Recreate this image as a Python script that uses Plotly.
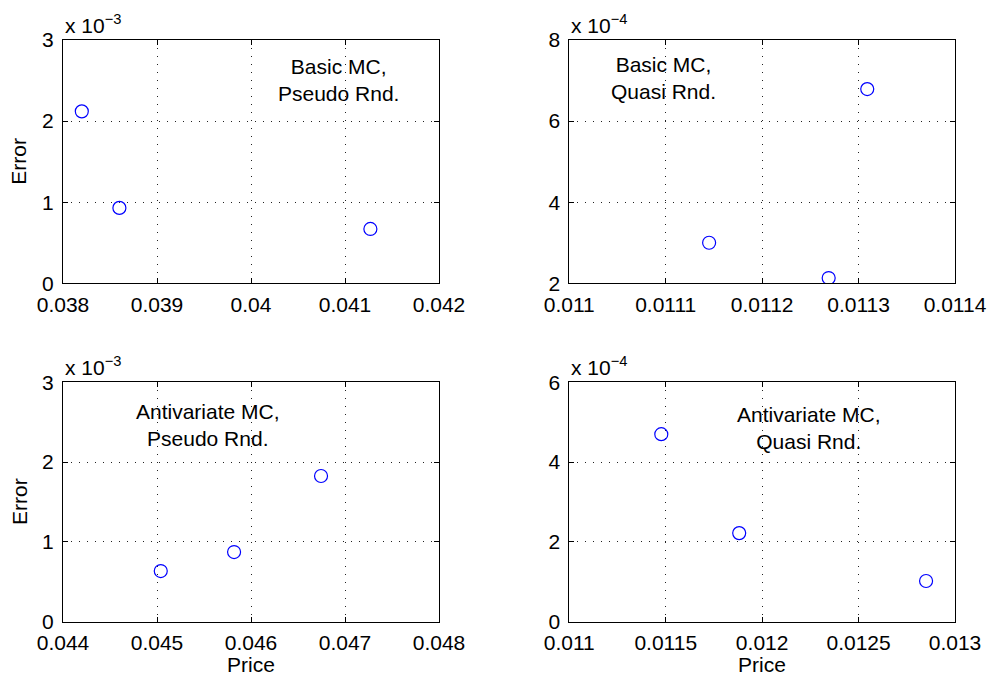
import plotly.graph_objects as go

# ---- data ----
tl_price = [0.03820, 0.03860, 0.04127]
tl_err = [2.12e-3, 0.93e-3, 0.67e-3]
tr_price = [0.011145, 0.011269, 0.011309]
tr_err = [3.00e-4, 2.13e-4, 6.79e-4]
bl_price = [0.04504, 0.04582, 0.046745]
bl_err = [0.635e-3, 0.873e-3, 1.826e-3]
br_price = [0.011477, 0.011881, 0.012850]
br_err = [4.70e-4, 2.22e-4, 1.02e-4]

tl_xticks = [0.038, 0.039, 0.040, 0.041, 0.042]
tl_xlabels = ["0.038", "0.039", "0.04", "0.041", "0.042"]
tr_xticks = [0.0110, 0.0111, 0.0112, 0.0113, 0.0114]
tr_xlabels = ["0.011", "0.0111", "0.0112", "0.0113", "0.0114"]
bl_xticks = [0.044, 0.045, 0.046, 0.047, 0.048]
bl_xlabels = ["0.044", "0.045", "0.046", "0.047", "0.048"]
br_xticks = [0.0110, 0.0115, 0.0120, 0.0125, 0.0130]
br_xlabels = ["0.011", "0.0115", "0.012", "0.0125", "0.013"]

tl_yticks = [0, 1e-3, 2e-3, 3e-3]
tl_ylabels = ["0", "1", "2", "3"]
tr_yticks = [2e-4, 4e-4, 6e-4, 8e-4]
tr_ylabels = ["2", "4", "6", "8"]
bl_yticks = [0, 1e-3, 2e-3, 3e-3]
bl_ylabels = ["0", "1", "2", "3"]
br_yticks = [0, 2e-4, 4e-4, 6e-4]
br_ylabels = ["0", "2", "4", "6"]

labels = [
    "Basic MC,<br>Pseudo Rnd.",
    "Basic MC,<br>Quasi Rnd.",
    "Antivariate MC,<br>Pseudo Rnd.",
    "Antivariate MC,<br>Quasi Rnd.",
]
exponents = ["x 10<sup>−3</sup>", "x 10<sup>−4</sup>", "x 10<sup>−3</sup>", "x 10<sup>−4</sup>"]

FONT = "Liberation Sans, Arial, Helvetica, sans-serif"
FS = 21
OFF = 0  # body margin removed by post_script
W, H = 990, 679

# panel pixel boxes in window coords (left, right, top, bottom)
boxes = [
    (63, 439, 40, 283.3),
    (569.3, 955, 40, 283.3),
    (63, 439, 382.3, 621.7),
    (569.3, 955, 382.3, 621.7),
]


def px_x(x):
    return (x - OFF) / W


def px_y(y):
    return 1 - (y - OFF) / H


panels = [
    (tl_price, tl_err, tl_xticks, tl_xlabels, tl_yticks, tl_ylabels),
    (tr_price, tr_err, tr_xticks, tr_xlabels, tr_yticks, tr_ylabels),
    (bl_price, bl_err, bl_xticks, bl_xlabels, bl_yticks, bl_ylabels),
    (br_price, br_err, br_xticks, br_xlabels, br_yticks, br_ylabels),
]

fig = go.Figure()
layout = dict(
    width=W, height=H,
    margin=dict(l=0, r=0, t=0, b=0, autoexpand=False),
    paper_bgcolor="white", plot_bgcolor="white",
    showlegend=False,
    font=dict(family=FONT, size=FS, color="black"),
)
annotations = []

text_pos = [(338, 80), (663, 78), (208, 425), (809, 428)]

for i, (px, py, xt, xl, yt, yl) in enumerate(panels):
    n = "" if i == 0 else str(i + 1)
    L, R, T, B = boxes[i]
    fig.add_trace(go.Scatter(
        x=px, y=py, mode="markers",
        marker=dict(symbol="circle-open", size=13, color="#0000ff", line=dict(width=1.2, color="#0000ff")),
        xaxis="x" + n, yaxis="y" + n,
    ))
    axcommon = dict(
        showline=True, linecolor="black", linewidth=1, mirror="ticks",
        ticks="inside", ticklen=5, tickcolor="black", tickwidth=1,
        showgrid=True, gridcolor="#222", gridwidth=1, griddash="1px,7px",
        zeroline=False, tickfont=dict(family=FONT, size=FS, color="black"),
        automargin=False,
    )
    layout["xaxis" + n] = dict(
        axcommon, domain=[px_x(L), px_x(R)], anchor="y" + n,
        range=[xt[0], xt[-1]], tickvals=xt, ticktext=xl, ticklabelstandoff=2,
    )
    layout["yaxis" + n] = dict(
        axcommon, domain=[px_y(B), px_y(T)], anchor="x" + n,
        range=[yt[0], yt[-1]], tickvals=yt, ticktext=yl, ticklabelstandoff=4,
    )
    tx, ty = text_pos[i]
    annotations.append(dict(
        x=px_x(tx), y=px_y(ty), xref="paper", yref="paper",
        text=labels[i], showarrow=False, align="center",
        xanchor="center", yanchor="middle",
        font=dict(family=FONT, size=FS, color="black"),
    ))
    annotations.append(dict(
        x=px_x(L), y=px_y(T), xref="paper", yref="paper",
        text=exponents[i], showarrow=False, align="left",
        xanchor="left", yanchor="bottom", yshift=1,
        font=dict(family=FONT, size=FS, color="black"),
    ))

# axis labels
for (L, R, T, B) in [boxes[0], boxes[2]]:
    annotations.append(dict(
        x=px_x(19), y=px_y((T + B) / 2), xref="paper", yref="paper",
        text="Error", showarrow=False, textangle=-90,
        xanchor="center", yanchor="middle",
        font=dict(family=FONT, size=FS, color="black"),
    ))
for (L, R, T, B) in [boxes[2], boxes[3]]:
    annotations.append(dict(
        x=px_x((L + R) / 2), y=px_y(664), xref="paper", yref="paper",
        text="Price", showarrow=False,
        xanchor="center", yanchor="middle",
        font=dict(family=FONT, size=FS, color="black"),
    ))

layout["annotations"] = annotations
fig.update_layout(**layout)
fig.write_html(
    "out.html",
    config={"displayModeBar": False},
    post_script="document.body.style.margin='0';document.body.style.overflow='hidden';",
)
